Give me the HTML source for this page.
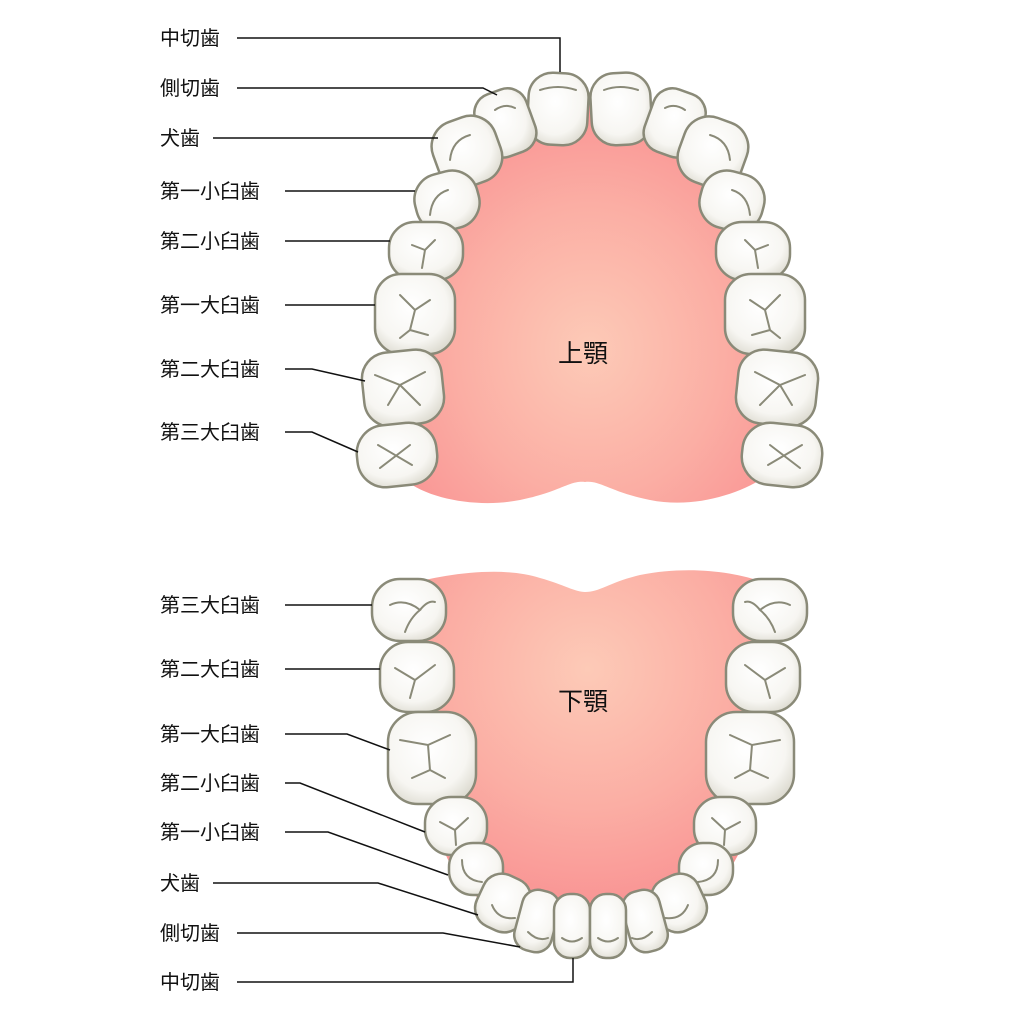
<!DOCTYPE html>
<html><head><meta charset="utf-8"><style>
html,body{margin:0;padding:0;background:#fff;}
svg{display:block}
text{font-family:"Liberation Sans","Noto Sans CJK JP",sans-serif;fill:#111;}
</style></head><body>
<svg width="1024" height="1024" viewBox="0 0 1024 1024" xmlns="http://www.w3.org/2000/svg">
<defs>
<radialGradient id="pu" cx="0.5" cy="0.62" r="0.6">
<stop offset="0" stop-color="#fdcab7"/><stop offset="0.6" stop-color="#fbaea4"/><stop offset="1" stop-color="#f99695"/></radialGradient>
<radialGradient id="pl" cx="0.5" cy="0.28" r="0.65">
<stop offset="0" stop-color="#fdcab7"/><stop offset="0.6" stop-color="#fbaea4"/><stop offset="1" stop-color="#f99695"/></radialGradient>
<radialGradient id="tg" cx="0.45" cy="0.4" r="0.65">
<stop offset="0" stop-color="#ffffff"/><stop offset="0.7" stop-color="#f7f6f2"/><stop offset="1" stop-color="#dedcd2"/></radialGradient>
</defs>

<!-- palates -->
<path d="M450,160 C480,110 530,100 590,100 C650,100 700,110 730,160 L775,470 C750,490 700,510 650,500 C610,492 600,480 585,482 C570,480 560,492 520,500 C480,508 430,500 405,480 Z" fill="url(#pu)"/>
<path d="M405,585 C440,575 500,565 540,578 C565,585 575,592 585,592 C600,592 610,582 640,575 C690,565 740,572 770,585 L745,840 C720,900 680,925 590,925 C500,925 460,900 440,840 Z" fill="url(#pl)"/>

<g fill="url(#tg)" stroke="#8a8a78" stroke-width="2.5">
<!-- upper -->
<rect x="528" y="73" width="60" height="72" rx="24" transform="rotate(3 558 108)"/>
<rect x="591" y="73" width="60" height="72" rx="24" transform="rotate(-3 620 108)"/>
<rect x="478" y="90" width="54" height="66" rx="20" transform="rotate(-20 505 122)"/>
<rect x="648" y="90" width="54" height="66" rx="20" transform="rotate(20 675 122)"/>
<rect x="434" y="118" width="66" height="68" rx="26" transform="rotate(-20 466 152)"/>
<rect x="680" y="118" width="66" height="68" rx="26" transform="rotate(20 712 152)"/>
<rect x="415" y="172" width="64" height="58" rx="26" transform="rotate(-15 447 201)"/>
<rect x="700" y="172" width="64" height="58" rx="26" transform="rotate(15 732 201)"/>
<rect x="389" y="222" width="74" height="58" rx="26"/>
<rect x="716" y="222" width="74" height="58" rx="26"/>
<rect x="375" y="274" width="80" height="80" rx="26"/>
<rect x="725" y="274" width="80" height="80" rx="26"/>
<rect x="363" y="351" width="80" height="74" rx="26" transform="rotate(-6 403 388)"/>
<rect x="737" y="351" width="80" height="74" rx="26" transform="rotate(6 777 388)"/>
<rect x="357" y="424" width="80" height="62" rx="28" transform="rotate(-6 397 455)"/>
<rect x="742" y="424" width="80" height="62" rx="28" transform="rotate(6 782 455)"/>
<!-- lower -->
<rect x="372" y="579" width="74" height="62" rx="28"/>
<rect x="733" y="579" width="74" height="62" rx="28"/>
<rect x="380" y="642" width="74" height="70" rx="28"/>
<rect x="726" y="642" width="74" height="70" rx="28"/>
<rect x="388" y="712" width="88" height="92" rx="30"/>
<rect x="706" y="712" width="88" height="92" rx="30"/>
<rect x="425" y="797" width="62" height="58" rx="26"/>
<rect x="694" y="797" width="62" height="58" rx="26"/>
<rect x="449" y="843" width="54" height="52" rx="24"/>
<rect x="679" y="843" width="54" height="52" rx="24"/>
<rect x="478" y="875" width="50" height="56" rx="20" transform="rotate(25 503 903)"/>
<rect x="654" y="875" width="50" height="56" rx="20" transform="rotate(-25 679 903)"/>
<rect x="518" y="890" width="38" height="62" rx="16" transform="rotate(15 537 921)"/>
<rect x="626" y="890" width="38" height="62" rx="16" transform="rotate(-15 645 921)"/>
<rect x="554" y="894" width="36" height="64" rx="16"/>
<rect x="590" y="894" width="36" height="64" rx="16"/>
</g>

<!-- fissures -->
<g fill="none" stroke="#8a8a78" stroke-width="2" stroke-linecap="round">
<path d="M540,90 Q558,84 576,90"/><path d="M604,90 Q620,84 638,90"/>
<path d="M495,110 Q505,103 515,108"/><path d="M665,108 Q675,103 685,110"/>
<path d="M450,160 Q452,140 470,135"/><path d="M710,135 Q728,140 730,160"/>
<path d="M430,215 Q432,195 448,190"/><path d="M732,190 Q748,195 750,215"/>
<path d="M412,245 L425,250 L435,240 M425,250 L422,268"/><path d="M768,245 L755,250 L745,240 M755,250 L758,268"/>
<path d="M400,295 L415,310 L430,300 M415,310 L410,330 L400,338 M410,330 L428,335"/>
<path d="M780,295 L765,310 L750,300 M765,310 L770,330 L780,338 M770,330 L752,335"/>
<path d="M375,375 L400,385 L425,372 M400,385 L388,405 M400,385 L420,405"/>
<path d="M805,375 L780,385 L755,372 M780,385 L792,405 M780,385 L760,405"/>
<path d="M378,445 L412,465 M380,468 L410,445"/><path d="M802,445 L768,465 M800,468 L770,445"/>
<path d="M390,605 Q405,598 420,610 Q410,618 405,632 M420,610 Q428,600 435,602"/>
<path d="M790,605 Q775,598 760,610 Q770,618 775,632 M760,610 Q752,600 745,602"/>
<path d="M395,668 L415,680 L435,665 M415,680 L410,698"/><path d="M785,668 L765,680 L745,665 M765,680 L770,698"/>
<path d="M400,740 L428,745 L450,735 M428,745 L430,770 L412,778 M430,770 L445,778"/>
<path d="M780,740 L752,745 L730,735 M752,745 L750,770 L768,778 M750,770 L735,778"/>
<path d="M440,822 L455,830 L468,818 M455,830 L456,845"/><path d="M740,822 L725,830 L712,818 M725,830 L724,845"/>
<path d="M462,860 Q462,880 482,882"/><path d="M718,860 Q718,880 698,882"/>
<path d="M492,905 Q498,920 515,918"/><path d="M688,905 Q682,920 665,918"/>
<path d="M528,932 Q538,942 548,938"/><path d="M652,932 Q642,942 632,938"/>
<path d="M562,938 Q572,945 582,938"/><path d="M598,938 Q608,945 618,938"/>
</g>

<!-- leader lines -->
<g fill="none" stroke="#111" stroke-width="1.5">
<path d="M237,38 H560 V72"/>
<path d="M237,88 H483 L497,95"/>
<path d="M213,138 H438"/>
<path d="M285,191 H415"/>
<path d="M285,241 H390"/>
<path d="M285,305 H375"/>
<path d="M285,369 H312 L365,381"/>
<path d="M285,432 H312 L358,452"/>
<path d="M285,605 H372"/>
<path d="M285,669 H380"/>
<path d="M285,734 H347 L390,750"/>
<path d="M285,783 H300 L425,832"/>
<path d="M285,832 H328 L448,875"/>
<path d="M213,883 H378 L478,915"/>
<path d="M237,933 H443 L520,947"/>
<path d="M237,982 H573 V958"/>
</g>

<g font-size="20">
<text x="160" y="45">中切歯</text>
<text x="160" y="95">側切歯</text>
<text x="160" y="145">犬歯</text>
<text x="160" y="198">第一小臼歯</text>
<text x="160" y="248">第二小臼歯</text>
<text x="160" y="312">第一大臼歯</text>
<text x="160" y="376">第二大臼歯</text>
<text x="160" y="439">第三大臼歯</text>
<text x="160" y="612">第三大臼歯</text>
<text x="160" y="676">第二大臼歯</text>
<text x="160" y="741">第一大臼歯</text>
<text x="160" y="790">第二小臼歯</text>
<text x="160" y="839">第一小臼歯</text>
<text x="160" y="890">犬歯</text>
<text x="160" y="940">側切歯</text>
<text x="160" y="989">中切歯</text>
</g>
<text x="558" y="362" font-size="25">上顎</text>
<text x="558" y="710" font-size="25">下顎</text>
</svg>
</body></html>
